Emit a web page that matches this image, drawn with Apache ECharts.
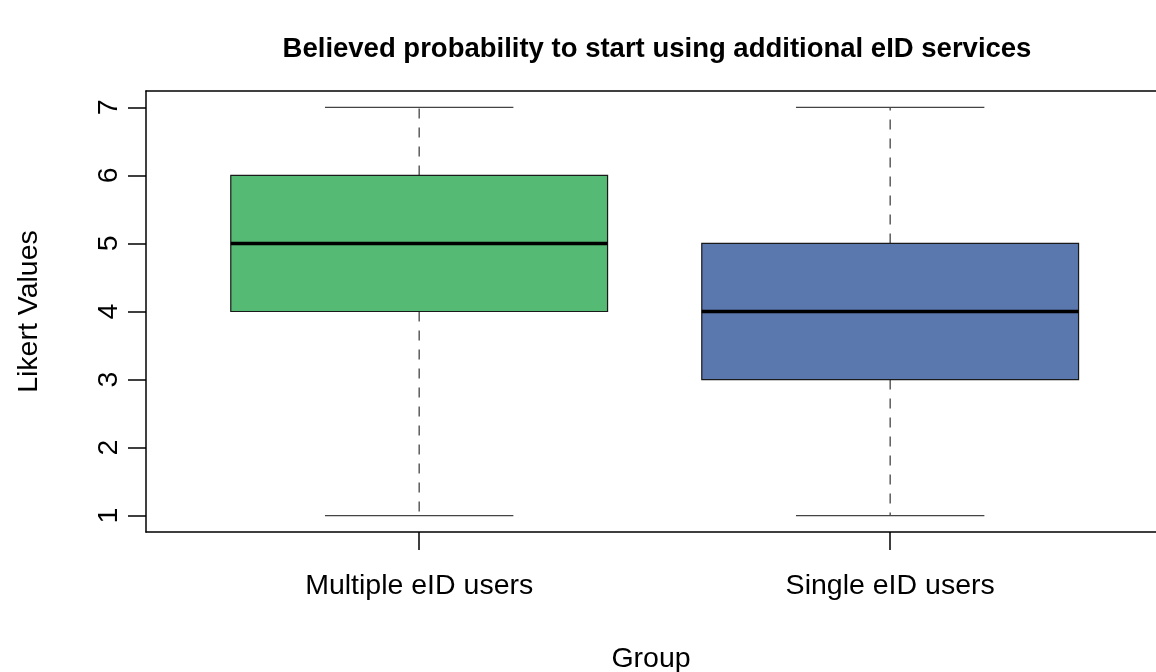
<!DOCTYPE html>
<html>
<head>
<meta charset="utf-8">
<title>Believed probability to start using additional eID services</title>
<script src="https://cdn.jsdelivr.net/npm/echarts@6/dist/echarts.min.js"></script>
<style>
  html, body { margin: 0; padding: 0; background: #fff; }
  #chart { width: 1156px; height: 672px; }
</style>
</head>
<body>
<div id="chart"></div>
<script>
// Group names and five-number summaries on a 1–7 Likert scale
const groups = ['Multiple eID users', 'Single eID users'];
const whiskerLow = [1, 1];
const quartile1 = [4, 3];
const medians = [5, 4];
const quartile3 = [6, 5];
const whiskerHigh = [7, 7];
const boxColors = ['#55BA74', '#5A77AE'];
const yTicks = [1, 2, 3, 4, 5, 6, 7];
const xTicks = [1, 2];

const FONT = "'Liberation Sans', Arial, Helvetica, sans-serif";

const boxData = groups.map((g, i) => ({
  value: [i + 1, whiskerLow[i], quartile1[i], medians[i], quartile3[i], whiskerHigh[i]],
  name: g
}));

// One box: dashed whiskers, end staples, filled IQR box and a heavy median bar
function renderBox(params, api) {
  const i = params.dataIndex;
  const x = api.value(0);
  const pMin = api.coord([x, api.value(1)]);
  const pQ1 = api.coord([x, api.value(2)]);
  const pMed = api.coord([x, api.value(3)]);
  const pQ3 = api.coord([x, api.value(4)]);
  const pMax = api.coord([x, api.value(5)]);
  const boxW = api.size([0.8, 0])[0];
  const stapleW = api.size([0.4, 0])[0];
  const cx = pMed[0];
  const whiskerStyle = { stroke: '#444', lineWidth: 1.3, lineDash: [10, 9] };
  const stapleStyle = { stroke: '#444', lineWidth: 1.3 };
  return {
    type: 'group',
    children: [
      { type: 'line', shape: { x1: cx, y1: pQ3[1], x2: cx, y2: pMax[1] }, style: whiskerStyle },
      { type: 'line', shape: { x1: cx, y1: pQ1[1], x2: cx, y2: pMin[1] }, style: whiskerStyle },
      { type: 'line', shape: { x1: cx - stapleW / 2, y1: pMax[1], x2: cx + stapleW / 2, y2: pMax[1] }, style: stapleStyle },
      { type: 'line', shape: { x1: cx - stapleW / 2, y1: pMin[1], x2: cx + stapleW / 2, y2: pMin[1] }, style: stapleStyle },
      {
        type: 'rect',
        shape: { x: cx - boxW / 2, y: pQ3[1], width: boxW, height: pQ1[1] - pQ3[1] },
        style: { fill: boxColors[i], stroke: '#1a1a1a', lineWidth: 1.2 }
      },
      { type: 'line', shape: { x1: cx - boxW / 2, y1: pMed[1], x2: cx + boxW / 2, y2: pMed[1] }, style: { stroke: '#000', lineWidth: 3.5 } }
    ]
  };
}

const frameLine = { show: true, onZero: false, lineStyle: { color: '#000', width: 1.5 } };

const chart = echarts.init(document.getElementById('chart'));
chart.setOption({
  backgroundColor: '#fff',
  animation: false,
  title: {
    text: 'Believed probability to start using additional eID services',
    left: 652,
    top: 30,
    textAlign: 'center',
    textStyle: { fontFamily: FONT, fontSize: 27.5, fontWeight: 'bold', color: '#000' }
  },
  grid: { left: 146, top: 91, bottom: 140, right: 0, show: false, outerBoundsMode: 'none', containLabel: false },
  xAxis: [{
    type: 'value',
    position: 'bottom',
    min: 0.42, max: 2.5644,
    name: 'Group',
    nameLocation: 'middle',
    nameGap: 113,
    nameTextStyle: { fontFamily: FONT, fontSize: 28.5, color: '#000' },
    axisLine: frameLine,
    splitLine: { show: false },
    axisTick: { show: true, customValues: xTicks, length: 18, lineStyle: { color: '#000', width: 1.5 } },
    axisLabel: {
      customValues: xTicks,
      margin: 40,
      fontFamily: FONT, fontSize: 28.5, color: '#000',
      formatter: v => groups[Math.round(v) - 1] || ''
    }
  }, {
    // top edge of the plot frame
    type: 'value',
    position: 'top',
    min: 0.42, max: 2.5644,
    axisLine: frameLine,
    axisTick: { show: false },
    axisLabel: { show: false },
    splitLine: { show: false }
  }],
  yAxis: {
    type: 'value',
    min: 0.76, max: 7.24,
    name: 'Likert Values',
    nameLocation: 'middle',
    nameGap: 102,
    nameTextStyle: { fontFamily: FONT, fontSize: 28.5, color: '#000' },
    axisLine: frameLine,
    splitLine: { show: false },
    axisTick: { show: true, customValues: yTicks, length: 18, lineStyle: { color: '#000', width: 1.5 } },
    axisLabel: {
      customValues: yTicks,
      rotate: 90,
      margin: 22,
      fontFamily: FONT, fontSize: 28.5, color: '#000'
    }
  },
  series: [{
    type: 'custom',
    xAxisIndex: 0,
    renderItem: renderBox,
    encode: { x: 0, y: [1, 2, 3, 4, 5] },
    data: boxData,
    clip: false
  }]
});
</script>
</body>
</html>
